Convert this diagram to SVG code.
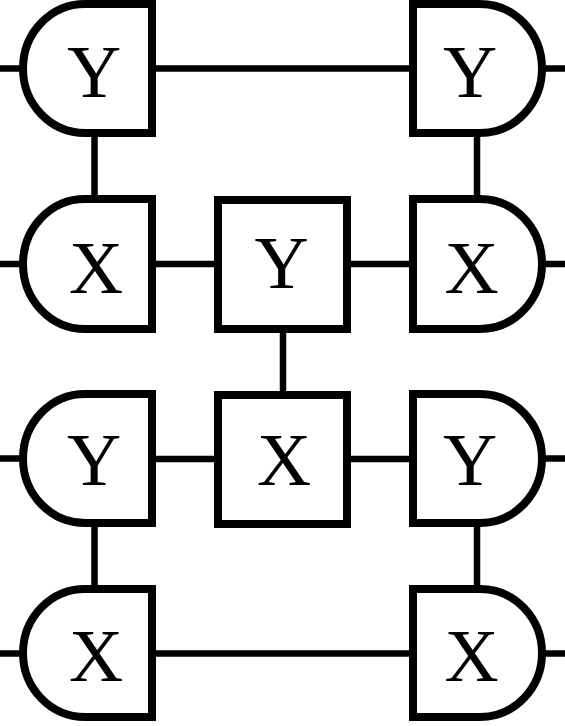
<svg xmlns="http://www.w3.org/2000/svg" width="565" height="726" viewBox="0 0 565 726">
<style>
.n{fill:#fff;stroke:#000;stroke-width:8}
.c{stroke:#000;stroke-width:6.5;fill:none}
.t{font-family:"Liberation Serif","Times New Roman",serif;font-size:75px;text-anchor:middle;fill:#000}
</style>
<rect width="565" height="726" fill="#fff"/>
<g id="connectors">
<path class="c" d="M0,68.5H23M0,264H23M0,458.5H23M0,653.5H23"/>
<path class="c" d="M542,68.5H565M542,264H565M542,458.5H565M542,653.5H565"/>
<path class="c" d="M152,68.5H413M152,653.5H413"/>
<path class="c" d="M152,264H218M347,264H413M152,459H218M347,459H413"/>
<path class="c" d="M94.5,133V199M94.5,523V589M477,133V199M477,523V589M283,329V395"/>
</g>
<g id="y1l"><path class="n" d="M152,4H85A62,64.5 0 0 0 85,133H152Z"/><text class="t" x="94" y="97">Y</text></g>
<g id="y1r"><path class="n" d="M413,4H480A62,64.5 0 0 1 480,133H413Z"/><text class="t" x="470" y="97">Y</text></g>
<g id="x2l"><path class="n" d="M152,199H85A62,65 0 0 0 85,329H152Z"/><text class="t" x="96" y="293">X</text></g>
<g id="x2r"><path class="n" d="M413,199H480A62,65 0 0 1 480,329H413Z"/><text class="t" x="471.5" y="293">X</text></g>
<g id="y2m"><rect class="n" x="218" y="200" width="129" height="129"/><text class="t" x="281.5" y="288">Y</text></g>
<g id="x3m"><rect class="n" x="218" y="395" width="129" height="129"/><text class="t" x="284" y="485">X</text></g>
<g id="y3l"><path class="n" d="M152,394H85A62,64.5 0 0 0 85,523H152Z"/><text class="t" x="94" y="485">Y</text></g>
<g id="y3r"><path class="n" d="M413,394H480A62,64.5 0 0 1 480,523H413Z"/><text class="t" x="470" y="485">Y</text></g>
<g id="x4l"><path class="n" d="M152,589H85A62,64 0 0 0 85,717H152Z"/><text class="t" x="96" y="681">X</text></g>
<g id="x4r"><path class="n" d="M413,589H480A62,64 0 0 1 480,717H413Z"/><text class="t" x="471.5" y="681">X</text></g>
</svg>
